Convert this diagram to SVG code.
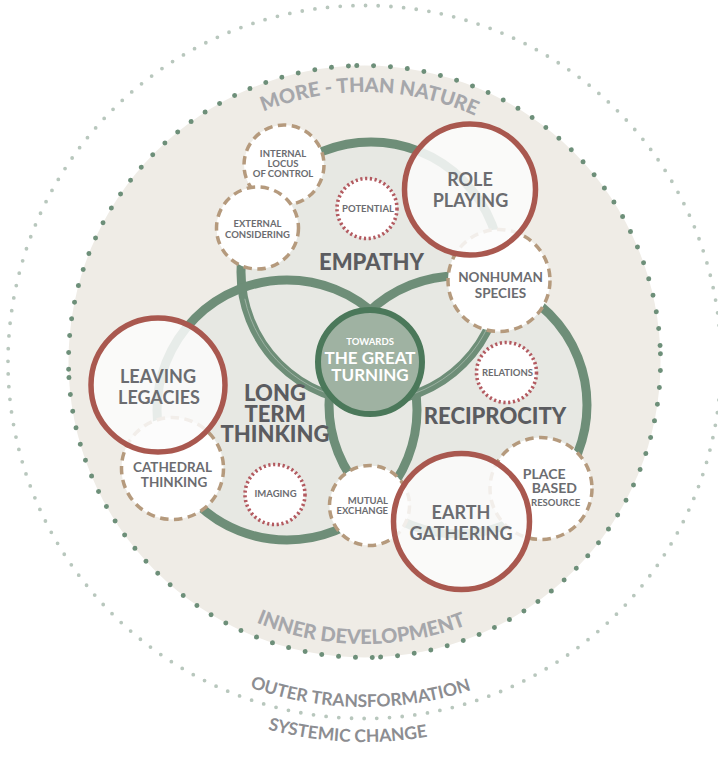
<svg xmlns="http://www.w3.org/2000/svg" width="718" height="770" viewBox="0 0 718 770">
  <style>
    text { font-family: Lato, "Open Sans", "Liberation Sans", sans-serif; font-weight: 700; text-anchor: middle; }
    .ring { fill: none; stroke: #6e8e78; stroke-width: 9; }
    .venn { fill: #e7e8e3; stroke: none; }
    .dash { fill: #ffffff; stroke: #b59a7d; stroke-width: 3.5; stroke-dasharray: 8.5 5.5; }
    .dot { fill: #ffffff; stroke: #b35a60; stroke-width: 3.6; stroke-dasharray: 2.2 2.6; }
    .key { fill: #fbfbfb; fill-opacity: 0.86; stroke: #a9584f; stroke-width: 5.5; }
    .big { fill: #5b5c60; font-size: 22px; font-weight: 900; }
    .keyt { fill: #6b6c70; font-size: 18px; }
    .mid { fill: #6b6c70; font-size: 13.5px; }
    .sm { fill: #6b6c70; font-size: 9.5px; }
    .arcA { fill: #a6a7ab; font-size: 20px; font-weight: 900; }
    .arcB { fill: #8c8d91; font-size: 17.5px; }
    .dotsIn { fill: none; stroke: #6d8f79; stroke-width: 5; stroke-linecap: round; stroke-dasharray: 0 16.9; }
  </style>
  <defs>
    <path id="pTop" d="M 95,361.5 A 269.5 269.5 0 0 1 634,361.5"/>
    <path id="pInner" d="M 82,361.5 A 282.5 282.5 0 0 0 647,361.5"/>
    <path id="pOuter" d="M 19.5,362 A 345 345 0 0 0 709.5,362"/>
    <path id="pSys" d="M -15.5,362 A 380 380 0 0 0 744.5,362"/>
  </defs>

  <!-- systemic change ring -->
  <circle cx="364.5" cy="362" r="356.5" fill="none" stroke="#b8c7bd" stroke-width="3.8" stroke-linecap="round" stroke-dasharray="0 12.73"/>

  <!-- more-than-nature disk -->
  <circle cx="364.5" cy="361.5" r="296" fill="#efece6"/>
  <g transform="rotate(-1.5 364.5 361.5)">
    <path class="dotsIn" d="M 364.5,65.5 A 296 296 0 0 1 660.5,361.5"/>
    <path class="dotsIn" d="M 660.5,361.5 A 296 296 0 0 1 364.5,657.5"/>
    <path class="dotsIn" d="M 364.5,657.5 A 296 296 0 0 1 68.5,361.5"/>
    <path class="dotsIn" d="M 68.5,361.5 A 296 296 0 0 1 364.5,65.5"/>
  </g>

  <!-- ring labels -->
  <text class="arcA" transform="rotate(1.1 364.5 361.5)"><textPath href="#pTop" startOffset="50%">MORE - THAN NATURE</textPath></text>
  <text class="arcA" font-size="21" transform="rotate(0.7 364.5 361.5)"><textPath href="#pInner" startOffset="50%">INNER DEVELOPMENT</textPath></text>
  <text class="arcB" transform="rotate(0.7 364.5 362)"><textPath href="#pOuter" startOffset="50%">OUTER TRANSFORMATION</textPath></text>
  <text class="arcB" transform="rotate(2.6 364.5 362)"><textPath href="#pSys" startOffset="50%">SYSTEMIC CHANGE</textPath></text>

  <!-- venn areas -->
  <g id="venn-fill">
    <circle class="venn" cx="371" cy="272" r="130"/>
    <circle class="venn" cx="287" cy="410" r="130"/>
    <circle class="venn" cx="458" cy="405" r="129"/>
  </g>

  <!-- connectors: the three overlapping rings -->
  <g id="connectors">
    <circle class="ring" cx="371" cy="272" r="130"/>
    <circle class="ring" cx="287" cy="410" r="130"/>
    <circle class="ring" cx="458" cy="405" r="129"/>
    <path d="M 244.8,298.8 A 129 129 0 0 0 487.9,326.5" fill="none" stroke="#a8bbad" stroke-width="0.8"/>
  </g>

  <g id="empathy"><text class="big" x="371.5" y="270">EMPATHY</text></g>
  <g id="long-term-thinking">
    <text class="big" x="275" y="400.5">LONG</text>
    <text class="big" x="275" y="421.5">TERM</text>
    <text class="big" x="275" y="442">THINKING</text>
  </g>
  <g id="reciprocity"><text class="big" x="495" y="423.5">RECIPROCITY</text></g>

  <!-- centre -->
  <g id="great-turning">
    <circle cx="370" cy="362" r="52" fill="#9fb2a2" stroke="#4b785a" stroke-width="6"/>
    <text x="370" y="345" fill="#ffffff" font-size="9.5">TOWARDS</text>
    <text x="370" y="364" fill="#ffffff" font-size="17">THE GREAT</text>
    <text x="370" y="380.7" fill="#ffffff" font-size="17">TURNING</text>
  </g>

  <!-- dashed practice nodes -->
  <g id="internal-locus">
    <circle class="dash" cx="284" cy="165" r="40"/>
    <text class="sm" x="283" y="156.7">INTERNAL</text>
    <text class="sm" x="283" y="167.3">LOCUS</text>
    <text class="sm" x="283" y="177.3">OF CONTROL</text>
  </g>
  <g id="external-considering">
    <circle class="dash" cx="257.5" cy="228" r="41"/>
    <text class="sm" x="257.5" y="226.7">EXTERNAL</text>
    <text class="sm" x="257.5" y="237.7">CONSIDERING</text>
  </g>
  <g id="nonhuman-species">
    <circle class="dash" cx="499" cy="280.5" r="51"/>
    <text class="mid" x="500.5" y="282.3">NONHUMAN</text>
    <text class="mid" x="500.5" y="297.7">SPECIES</text>
  </g>
  <g id="cathedral-thinking">
    <circle class="dash" cx="172.5" cy="468.5" r="51"/>
    <text class="mid" x="172.5" y="471.7">CATHEDRAL</text>
    <text class="mid" x="174" y="486.7">THINKING</text>
  </g>
  <g id="mutual-exchange">
    <circle class="dash" cx="369.5" cy="505.5" r="40"/>
    <text class="sm" x="388" y="504" style="text-anchor:end">MUTUAL</text>
    <text class="sm" x="388" y="514" style="text-anchor:end">EXCHANGE</text>
  </g>
  <g id="place-based">
    <circle class="dash" cx="541" cy="488.5" r="51"/>
    <text x="544.2" y="479" fill="#6b6c70" font-size="14">PLACE</text>
    <text x="554.3" y="493.3" fill="#6b6c70" font-size="14">BASED</text>
    <text class="sm" x="555.7" y="505.7">RESOURCE</text>
  </g>

  <!-- dotted nodes -->
  <g id="potential">
    <circle class="dot" cx="367" cy="208.5" r="30"/>
    <text class="sm" x="368" y="211.5">POTENTIAL</text>
  </g>
  <g id="relations">
    <circle class="dot" cx="506.5" cy="372.5" r="30"/>
    <text class="sm" x="507.5" y="376">RELATIONS</text>
  </g>
  <g id="imaging">
    <circle class="dot" cx="275" cy="494.5" r="30"/>
    <text class="sm" x="275.5" y="497.3">IMAGING</text>
  </g>

  <!-- key practices -->
  <g id="role-playing">
    <circle class="key" cx="470" cy="189.5" r="65.5"/>
    <text class="keyt" x="470" y="186">ROLE</text>
    <text class="keyt" x="470.5" y="207.3">PLAYING</text>
  </g>
  <g id="leaving-legacies">
    <circle class="key" cx="158" cy="385" r="67"/>
    <text class="keyt" x="158" y="383.3">LEAVING</text>
    <text class="keyt" x="159" y="404.3">LEGACIES</text>
  </g>
  <g id="earth-gathering">
    <circle class="key" cx="461.5" cy="521.5" r="68"/>
    <text class="keyt" x="461" y="518.7">EARTH</text>
    <text class="keyt" x="461" y="540">GATHERING</text>
  </g>
</svg>
